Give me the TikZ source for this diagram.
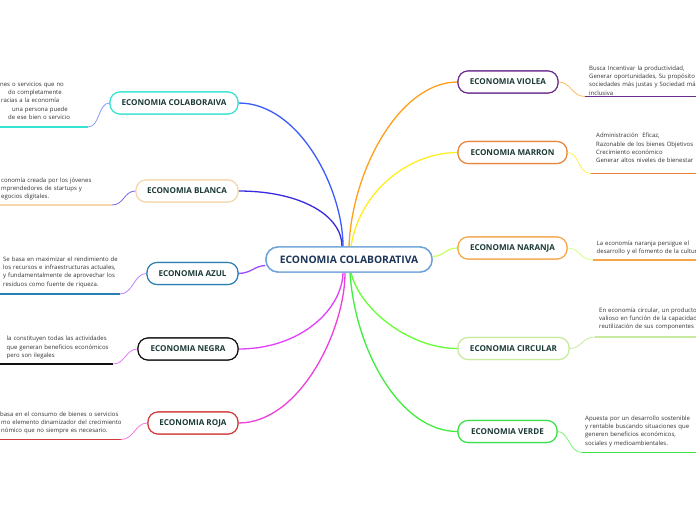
\documentclass[tikz,border=0pt]{standalone}
\usepackage{fontspec}
\setmainfont{Open Sans}
\definecolor{titlec}{HTML}{1B3A36}
\definecolor{centc}{HTML}{1C3557}
\definecolor{notec}{HTML}{333333}
\definecolor{bcent}{HTML}{6FA3D8}
\definecolor{b1}{HTML}{35E3D2}
\definecolor{b2}{HTML}{F5D7AE}
\definecolor{b3}{HTML}{2A80B2}
\definecolor{b4}{HTML}{111111}
\definecolor{b5}{HTML}{D23B3B}
\definecolor{b6}{HTML}{6B2D8F}
\definecolor{b7}{HTML}{E8843C}
\definecolor{b8}{HTML}{F5A54A}
\definecolor{b9}{HTML}{C8EA9E}
\definecolor{b10}{HTML}{3BE048}
\definecolor{k1}{HTML}{3B5BFF}
\definecolor{k2}{HTML}{3A2BDF}
\definecolor{k3}{HTML}{9B4DFF}
\definecolor{k4}{HTML}{E040FB}
\definecolor{k5}{HTML}{EE3FD8}
\definecolor{k6}{HTML}{FF9F1A}
\definecolor{k7}{HTML}{FFEE22}
\definecolor{k8}{HTML}{CCFF66}
\definecolor{k9}{HTML}{66FF33}
\definecolor{k10}{HTML}{40EE40}
\begin{document}
\begin{tikzpicture}[x=1pt,y=-1pt,
  topic/.style={draw, rounded corners=10pt, line width=1.1pt, fill=white,
    font=\bfseries\fontsize{8.1}{9}\selectfont, text=titlec, inner sep=0pt, minimum height=22pt},
  centre/.style={draw=bcent, rounded corners=12pt, line width=1.4pt, fill=white,
    font=\bfseries\fontsize{10.3}{12}\selectfont, text=centc, inner sep=0pt,
    minimum height=25pt, minimum width=166pt},
  note/.style={font=\fontsize{6}{8.3}\selectfont, text=notec, align=left, text width=150pt, inner sep=0pt, anchor=north west},
  conn/.style={line width=1.3pt},
  link/.style={line width=0.8pt},
  uline/.style={line width=1.6pt}
]
\useasboundingbox (0,0) rectangle (696,520);
\clip (0,0) rectangle (696,520);
\fill[white] (0,0) rectangle (696,520);

\node[centre] (c) at (349,259.5) {ECONOMIA COLABORATIVA};
\node[topic, draw=b1, minimum width=128pt] (n1) at (174,103) {ECONOMIA COLABORAIVA};
\node[topic, draw=b2, minimum width=102pt] (n2) at (187,191) {ECONOMIA BLANCA};
\node[topic, draw=b3, minimum width=91pt] (n3) at (192.5,273.5) {ECONOMIA AZUL};
\node[topic, draw=b4, minimum width=100pt] (n4) at (188,349) {ECONOMIA NEGRA};
\node[topic, draw=b5, minimum width=90pt] (n5) at (193,423) {ECONOMIA ROJA};
\node[topic, draw=b6, minimum width=100pt] (n6) at (508,82) {ECONOMIA VIOLEA};
\node[topic, draw=b7, minimum width=109pt] (n7) at (512.5,152.5) {ECONOMIA MARRON};
\node[topic, draw=b8, minimum width=109pt] (n8) at (512.5,248) {ECONOMIA NARANJA};
\node[topic, draw=b9, minimum width=111pt] (n9) at (513.5,348.5) {ECONOMIA CIRCULAR};
\node[topic, draw=b10, minimum width=99pt] (n10) at (507.5,431.5) {ECONOMIA VERDE};

\draw[conn,k1] (n1.east) .. controls (300,103) and (343,190) .. ([xshift=-6pt]c.north);
\draw[conn,k2] (n2.east) .. controls (300,191) and (342,215) .. ([xshift=-7pt]c.north);
\draw[conn,k3] (n3.east) .. controls (252,273) and (254,266) .. ([yshift=-6pt]c.west);
\draw[conn,k4] (n4.east) .. controls (300,349) and (342,310) .. ([xshift=-6pt]c.south);
\draw[conn,k5] (n5.east) .. controls (300,423) and (345,330) .. ([xshift=-4pt]c.south);
\draw[conn,k6] (c.north) .. controls (352,170) and (400,82) .. (n6.west);
\draw[conn,k7] ([xshift=2pt]c.north) .. controls (360,190) and (410,152.5) .. (n7.west);
\draw[conn,k8] ([yshift=3pt]c.east) .. controls (445,256) and (445,248) .. (n8.west);
\draw[conn,k9] ([xshift=2pt]c.south) .. controls (360,310) and (410,348.5) .. (n9.west);
\draw[conn,k10] ([xshift=1pt]c.south) .. controls (355,350) and (400,431.5) .. (n10.west);

% redraw nodes on top of the connectors
\node[centre] at (c) {ECONOMIA COLABORATIVA};
\node[topic, draw=b1, minimum width=128pt] at (n1) {ECONOMIA COLABORAIVA};
\node[topic, draw=b2, minimum width=102pt] at (n2) {ECONOMIA BLANCA};
\node[topic, draw=b3, minimum width=91pt] at (n3) {ECONOMIA AZUL};
\node[topic, draw=b4, minimum width=100pt] at (n4) {ECONOMIA NEGRA};
\node[topic, draw=b5, minimum width=90pt] at (n5) {ECONOMIA ROJA};
\node[topic, draw=b6, minimum width=100pt] at (n6) {ECONOMIA VIOLEA};
\node[topic, draw=b7, minimum width=109pt] at (n7) {ECONOMIA MARRON};
\node[topic, draw=b8, minimum width=109pt] at (n8) {ECONOMIA NARANJA};
\node[topic, draw=b9, minimum width=111pt] at (n9) {ECONOMIA CIRCULAR};
\node[topic, draw=b10, minimum width=99pt] at (n10) {ECONOMIA VERDE};

% underlines and links
\coordinate (a1) at (0,127);   \coordinate (e1) at (88,127);
\coordinate (a2) at (0,205);   \coordinate (e2) at (112,205);
\coordinate (a3) at (0,294);   \coordinate (e3) at (120,294);
\coordinate (a4) at (0,364);   \coordinate (e4) at (113,364);
\coordinate (a5) at (0,439.5); \coordinate (e5) at (121,439.5);
\coordinate (a6) at (696,96.5);  \coordinate (e6) at (585,96.5);
\coordinate (a7) at (696,173.5); \coordinate (e7) at (591,173.5);
\coordinate (a8) at (696,260);   \coordinate (e8) at (593,260);
\coordinate (a9) at (696,337);   \coordinate (e9) at (595,337);
\coordinate (a10) at (696,452.5);\coordinate (e10) at (582,452.5);

\draw[uline,b1] (a1) -- (e1);
\draw[uline,b2] (a2) -- (e2);
\draw[uline,b3] (a3) -- (e3);
\draw[uline,b4] (a4) -- (e4);
\draw[uline,b5] (a5) -- (e5);
\draw[uline,b6] (a6) -- (e6);
\draw[uline,b7] (a7) -- (e7);
\draw[uline,b8] (a8) -- (e8);
\draw[uline,b9] (a9) -- (e9);
\draw[uline,b10] (a10) -- (e10);

\draw[link,k1!60] (n1.west) .. controls (98,103) and (100,127) .. (e1);
\draw[link,k2!70] (n2.west) .. controls (124,191) and (124,205) .. (e2);
\draw[link,k3!70] (n3.west) .. controls (134,273.5) and (133,294) .. (e3);
\draw[link,k4!70] (n4.west) .. controls (126,349) and (125,364) .. (e4);
\draw[link,k5!70] (n5.west) .. controls (135,423) and (134,439.5) .. (e5);
\draw[link,k6!70] (n6.east) .. controls (571,82) and (572,96.5) .. (e6);
\draw[link,k7!80] (n7.east) .. controls (579,152.5) and (578,173.5) .. (e7);
\draw[link,k8!80] (n8.east) .. controls (580,248) and (580,260) .. (e8);
\draw[link,b9] (n9.east) .. controls (582,348.5) and (582,337) .. (e9);
\draw[link,k10!70] (n10.east) .. controls (569,431.5) and (569,452.5) .. (e10);

% notes
\node[note] (t1) at (0,81.5) {nes o servicios que no\\\hspace*{8pt}do completamente\\\hspace*{1pt}racias a la economía\\\hspace*{12pt}una persona puede\\\hspace*{8pt}de ese bien o servicio};
\node[note] (t2) at (1,177.5) {conomía creada por los jóvenes\\mprendedores de startups y\\egocios digitales.};
\node[note] (t3) at (3,256.5) {Se basa en maximizar el rendimiento de\\los recursos e infraestructuras actuales,\\y fundamentalmente de aprovechar los\\residuos como fuente de riqueza.};
\node[note] (t4) at (6.5,336) {la constituyen todas las actividades\\que generan beneficios económicos\\pero son ilegales};
\node[note] (t5) at (0,411.5) {basa en el consumo de bienes o servicios\\\hspace*{1pt}mo elemento dinamizador del crecimiento\\\hspace*{1pt}nómico que no siempre es necesario.};
\node[note] (t6) at (589,65.5) {Busca Incentivar la productividad,\\Generar oportunidades, Su propósito e\\sociedades más justas y Sociedad más\\inclusiva};
\node[note] (t7) at (596,133) {Administración~ Eficaz,\\Razonable de los bienes Objetivos\\Crecimiento económico\\Generar altos niveles de bienestar};
\node[note] (t8) at (596.5,240.5) {La economía naranja persigue el\\desarrollo y el fomento de la cultura};
\node[note] (t9) at (599,307.5) {En economía circular, un producto e\\valioso en función de la capacidad\\reutilización de sus componentes};
\node[note] (t10) at (585,415.5) {Apuesta por un desarrollo sostenible\\y rentable buscando situaciones que\\generen beneficios económicos,\\sociales y medioambientales.};
\end{tikzpicture}
\end{document}
